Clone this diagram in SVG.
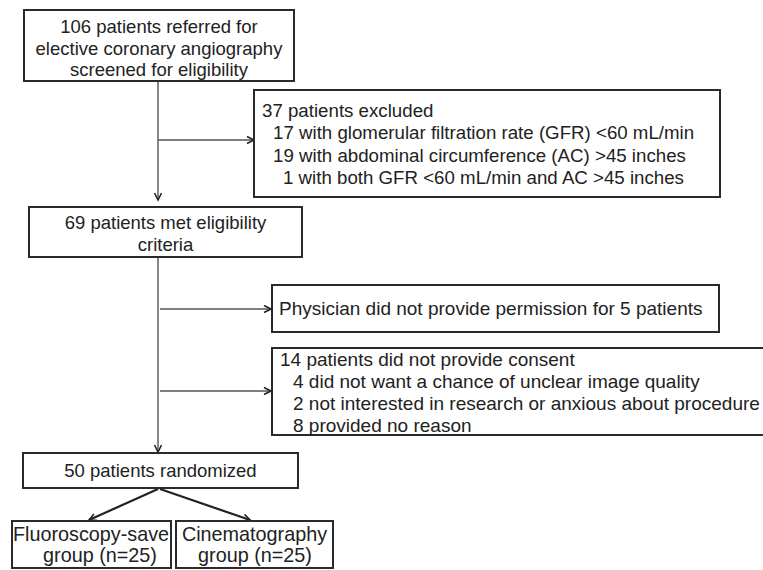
<svg xmlns="http://www.w3.org/2000/svg" width="763" height="570" viewBox="0 0 763 570">
<style>
.box{fill:#fff;stroke:#2a2a2a;stroke-width:2}
.t{font-family:"Liberation Sans",Arial,sans-serif;font-size:18.5px;fill:#222}
.c{text-anchor:middle}
.s19{font-size:19px}
.s20{font-size:19.8px}
.ln{stroke:#555;stroke-width:1.4;fill:none}
.dg{stroke:#222;stroke-width:2.2;fill:none}
</style>
<defs>
<marker id="ah" markerWidth="10" markerHeight="10" refX="8" refY="4" orient="auto" markerUnits="userSpaceOnUse">
<path d="M1,0.5 L8,4 L1,7.5" fill="none" stroke="#222" stroke-width="1.6"/>
</marker>
</defs>
<rect width="763" height="570" fill="#fff"/>
<g id="connectors">
<line class="ln" x1="158" y1="82" x2="158" y2="200" marker-end="url(#ah)"/>
<line class="ln" x1="158" y1="140" x2="254" y2="140" marker-end="url(#ah)"/>
<line class="ln" x1="158" y1="258" x2="158" y2="452" marker-end="url(#ah)"/>
<line class="ln" x1="160" y1="309" x2="271" y2="309" marker-end="url(#ah)"/>
<line class="ln" x1="160" y1="391" x2="271" y2="391" marker-end="url(#ah)"/>
<line class="dg" x1="158" y1="489" x2="89" y2="520" marker-end="url(#ah)"/>
<line class="dg" x1="160" y1="489" x2="250" y2="520" marker-end="url(#ah)"/>
</g>
<g id="screened">
<rect class="box" x="24" y="10" width="270" height="71"/>
<text class="t c" x="159" y="33">106 patients referred for</text>
<text class="t c" x="159" y="55">elective coronary angiography</text>
<text class="t c" x="159" y="76">screened for eligibility</text>
</g>
<g id="excluded">
<rect class="box" x="254" y="90" width="466" height="107"/>
<text class="t" x="262" y="117" style="font-size:18.7px">37 patients excluded</text>
<text class="t" x="273" y="139" style="font-size:18.7px">17 with glomerular filtration rate (GFR) &lt;60 mL/min</text>
<text class="t" x="273" y="162" style="font-size:18.7px">19 with abdominal circumference (AC) &gt;45 inches</text>
<text class="t" x="283" y="184" style="font-size:18.7px">1 with both GFR &lt;60 mL/min and AC &gt;45 inches</text>
</g>
<g id="eligible">
<rect class="box" x="29" y="207" width="273" height="50"/>
<text class="t c" x="165.5" y="229">69 patients met eligibility</text>
<text class="t c" x="165.5" y="251">criteria</text>
</g>
<g id="physician">
<rect class="box" x="272" y="285" width="447" height="47"/>
<text class="t s19" x="279" y="315">Physician did not provide permission for 5 patients</text>
</g>
<g id="consent">
<rect class="box" x="272" y="348" width="500" height="87"/>
<text class="t s19" x="280" y="366">14 patients did not provide consent</text>
<text class="t s19" x="293" y="388">4 did not want a chance of unclear image quality</text>
<text class="t s19" x="293" y="410">2 not interested in research or anxious about procedure</text>
<text class="t s19" x="293" y="432">8 provided no reason</text>
</g>
<g id="randomized">
<rect class="box" x="23" y="453" width="275" height="35"/>
<text class="t c" x="160.5" y="477">50 patients randomized</text>
</g>
<g id="fluoro">
<rect class="box" x="12" y="521" width="159" height="47"/>
<text class="t c s20" x="91" y="541">Fluoroscopy-save</text>
<text class="t c s20" x="100" y="562">group (n=25)</text>
</g>
<g id="cine">
<rect class="box" x="176" y="521" width="157" height="47"/>
<text class="t c s20" x="254.5" y="541">Cinematography</text>
<text class="t c s20" x="255" y="562">group (n=25)</text>
</g>
</svg>
